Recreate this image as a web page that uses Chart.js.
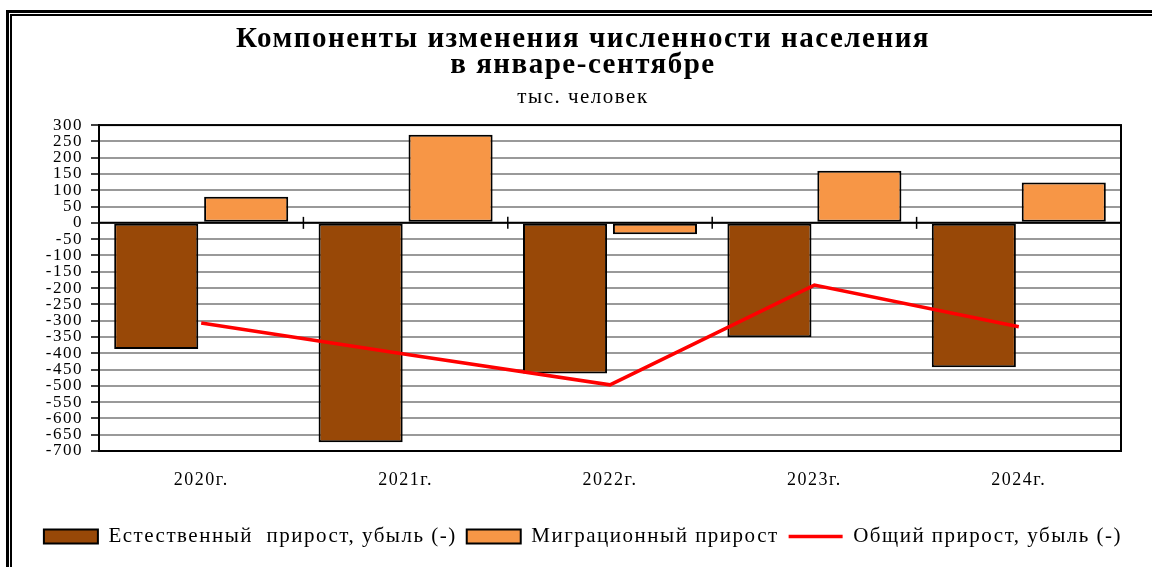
<!DOCTYPE html>
<html>
<head>
<meta charset="utf-8">
<script src="https://cdn.jsdelivr.net/npm/chart.js@4"></script>
<style>
  html, body { margin: 0; padding: 0; background: #fff; overflow: hidden; }
  #frame-outer { position: absolute; left: 6px; top: 10px; width: 1200px; height: 600px; border: 3px solid #000; }
  #frame-inner { position: absolute; left: 10px; top: 14px; width: 1200px; height: 600px; border: 2px solid #000; }
  #wrap { position: absolute; left: 0; top: 0; width: 1152px; height: 567px; }
</style>
</head>
<body>
<div id="frame-outer"></div>
<div id="frame-inner"></div>
<div id="wrap"><canvas id="chart" width="1152" height="567"></canvas></div>
<script>
  const years = ['2020г.', '2021г.', '2022г.', '2023г.', '2024г.'];
  const natural = [-387, -673, -462, -351, -443];
  const migration = [80, 270, -35, 160, 124];
  const total = [-307, -403, -497, -191, -319];

  const serif = '"Liberation Serif", "Times New Roman", serif';

  // the original text is a bit wider than Liberation Serif, so space letters out
  const spacing = {
    id: 'spacing',
    beforeUpdate(chart) { chart.ctx.letterSpacing = '1.5px'; },
    beforeDraw(chart) { chart.ctx.letterSpacing = '1.5px'; }
  };

  // plot frame + small category ticks on the zero line
  const frame = {
    id: 'frame',
    beforeDatasetsDraw(chart) {
      const { ctx, scales: { x, y } } = chart;
      const y0 = y.getPixelForValue(0);
      ctx.save();
      ctx.strokeStyle = '#000';
      ctx.lineWidth = 1.5;
      for (let i = 1; i < years.length; i++) {
        const px = (x.getPixelForValue(i - 1) + x.getPixelForValue(i)) / 2;
        ctx.beginPath(); ctx.moveTo(px, y0 - 6); ctx.lineTo(px, y0 + 6); ctx.stroke();
      }
      ctx.restore();
    },
    afterDraw(chart) {
      const { ctx, chartArea: a, scales: { y } } = chart;
      const y0 = y.getPixelForValue(0);
      ctx.save();
      ctx.strokeStyle = '#000';
      ctx.lineWidth = 2;
      ctx.strokeRect(a.left, a.top, a.right - a.left, a.bottom - a.top);
      ctx.beginPath(); ctx.moveTo(a.left, y0); ctx.lineTo(a.right, y0); ctx.stroke();
      ctx.restore();
    }
  };

  new Chart(document.getElementById('chart'), {
    type: 'bar',
    data: {
      labels: years,
      datasets: [
        { label: 'Естественный  прирост, убыль (-)', data: natural, backgroundColor: '#984807',
          borderColor: '#000', borderWidth: 2, borderSkipped: false, pointStyle: 'rect',
          categoryPercentage: 0.88, barPercentage: 0.935 },
        { label: 'Миграционный прирост', data: migration, backgroundColor: '#F79646',
          borderColor: '#000', borderWidth: 2, borderSkipped: false, pointStyle: 'rect',
          categoryPercentage: 0.88, barPercentage: 0.935 },
        { label: 'Общий прирост, убыль (-)', data: total, type: 'line', order: -1,
          borderColor: '#FF0000', backgroundColor: '#FF0000', borderWidth: 3.5,
          pointRadius: 0, pointStyle: 'line', tension: 0, fill: false }
      ]
    },
    options: {
      responsive: false,
      animation: false,
      layout: { padding: { left: 14, right: 0, top: 0, bottom: 10 } },
      plugins: {
        tooltip: { enabled: false },
        title: {
          display: true,
          text: ['Компоненты изменения численности населения', 'в январе-сентябре'],
          color: '#000',
          font: { family: serif, size: 29, weight: 'bold', lineHeight: 0.88 },
          padding: { top: 27, bottom: 0 }
        },
        subtitle: {
          display: true,
          text: 'тыс. человек',
          color: '#000',
          font: { family: serif, size: 21, lineHeight: 1.05 },
          padding: { top: 8, bottom: 17 }
        },
        legend: {
          position: 'bottom',
          labels: {
            usePointStyle: true,
            pointStyleWidth: 54,
            boxHeight: 14,
            padding: 10,
            color: '#000',
            font: { family: serif, size: 21 },
            sort: (a, b) => a.datasetIndex - b.datasetIndex
          }
        }
      },
      scales: {
        x: {
          grid: { display: false, drawTicks: false },
          border: { display: false },
          ticks: { color: '#000', font: { family: serif, size: 18 }, padding: 18 },
          afterFit(s) { s.height = 65; }
        },
        y: {
          min: -700, max: 300,
          afterFit(s) { s.width = 85; },
          border: { color: '#000', width: 2 },
          grid: {
            color: '#999', lineWidth: 2, tickLength: 8, tickColor: '#000', tickWidth: 1.5
          },
          ticks: {
            stepSize: 50, autoSkip: false, color: '#000', padding: 8,
            font: { family: serif, size: 17, lineHeight: 1 }
          }
        },
        // empty right-hand axis, only keeps the right margin of the plot
        y2: {
          position: 'right',
          grid: { drawOnChartArea: false, drawTicks: false },
          border: { display: false },
          ticks: { display: false },
          afterFit(s) { s.width = 31; }
        }
      }
    },
    plugins: [spacing, frame]
  });
</script>
</body>
</html>
